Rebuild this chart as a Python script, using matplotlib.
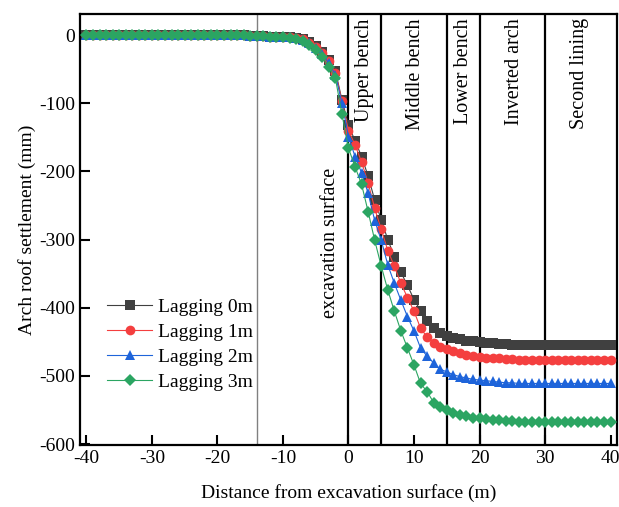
import matplotlib
matplotlib.use("Agg")
import matplotlib.pyplot as plt
import numpy as np

plt.rcParams['font.family'] = ['Liberation Serif', 'DejaVu Serif']
plt.rcParams['axes.unicode_minus'] = False

distance = list(range(-40, 41))

zeros25 = [0] * 25
lag0 = zeros25 + [-1, -1, -1, -2, -2, -3, -3, -4, -6, -10, -16, -24, -36, -52, -95,
                  -132, -155, -178, -207, -242, -271, -300, -325, -348, -367, -388,
                  -404, -419, -429, -437, -441, -444, -446, -448, -449, -450, -451,
                  -452, -453, -453, -454, -455, -455, -455, -455, -455, -455, -455,
                  -455, -455, -455, -455, -455, -455, -455, -455]
lag1 = zeros25 + [-1, -1, -1, -2, -2, -3, -3, -4, -6, -11, -17, -26, -38, -55, -97,
                  -140, -161, -186, -217, -254, -285, -316, -339, -364, -385, -405,
                  -430, -443, -452, -457, -460, -463, -466, -469, -471, -472, -473,
                  -474, -474, -475, -475, -476, -476, -476, -476, -476, -476, -476,
                  -476, -476, -476, -476, -476, -476, -476, -476]
lag2 = zeros25 + [-1, -1, -1, -2, -2, -3, -3, -4, -7, -12, -19, -28, -41, -58, -100,
                  -149, -178, -202, -232, -272, -301, -337, -364, -389, -413, -434,
                  -459, -471, -481, -490, -494, -498, -501, -503, -505, -506, -507,
                  -508, -509, -510, -510, -511, -511, -511, -511, -511, -511, -511,
                  -511, -511, -511, -511, -511, -511, -511, -511]
lag3 = zeros25 + [-1, -1, -1, -2, -2, -3, -4, -5, -8, -14, -22, -32, -46, -63, -116,
                  -166, -193, -219, -259, -301, -339, -374, -405, -434, -459, -484,
                  -511, -523, -539, -545, -550, -554, -557, -559, -561, -562, -563,
                  -564, -565, -566, -566, -567, -567, -567, -567, -567, -567, -567,
                  -567, -567, -567, -567, -567, -567, -567, -567]

labels = ["Lagging 0m", "Lagging 1m", "Lagging 2m", "Lagging 3m"]
colors = ["#404040", "#F43F3F", "#1E64DA", "#2BA562"]
markers = ["s", "o", "^", "D"]
sizes = [7, 7, 7.5, 6]

stage_lines = [0, 5, 15, 20, 30]
stage_names = ["Upper bench", "Middle bench", "Lower bench", "Inverted arch", "Second lining"]
stage_text_x = [2.5, 10.3, 17.5, 25.3, 35.2]

fig = plt.figure(figsize=(6.19, 5.07), dpi=100)
ax = fig.add_axes([0.129, 0.122, 0.868, 0.850])

ax.axvline(-14, color="#808080", lw=1.0, zorder=1)
for xv in stage_lines:
    ax.axvline(xv, color="black", lw=1.6, zorder=1)

for ys, lab, c, m, s in zip([lag0, lag1, lag2, lag3], labels, colors, markers, sizes):
    ax.plot(distance, ys, color=c, lw=0.8, marker=m, markersize=s,
            markeredgewidth=0, label=lab, zorder=3)

for name, xt in zip(stage_names, stage_text_x):
    ax.text(xt, 25, name, rotation=90, ha="center", va="top", fontsize=14.5)
ax.text(-2.8, -305, "excavation surface", rotation=90, ha="center", va="center", fontsize=14.5)

ax.set_xlim(-41, 41)
ax.set_ylim(-601.5, 30.8)
ax.set_xticks([-40, -30, -20, -10, 0, 10, 20, 30, 40])
ax.set_yticks([0, -100, -200, -300, -400, -500, -600])
ax.tick_params(direction="in", length=7, width=1.5, labelsize=14)
for sp in ax.spines.values():
    sp.set_linewidth(1.6)

ax.set_xlabel("Distance from excavation surface (m)", fontsize=14, labelpad=12)
ax.set_ylabel("Arch roof settlement (mm)", fontsize=14, labelpad=2)

leg = ax.legend(loc="center left", bbox_to_anchor=(0.026, 0.233), frameon=False,
                fontsize=14, handlelength=2.3, handletextpad=0.3, labelspacing=0.38,
                borderaxespad=0.3)

fig.savefig("out.png", dpi=100)
